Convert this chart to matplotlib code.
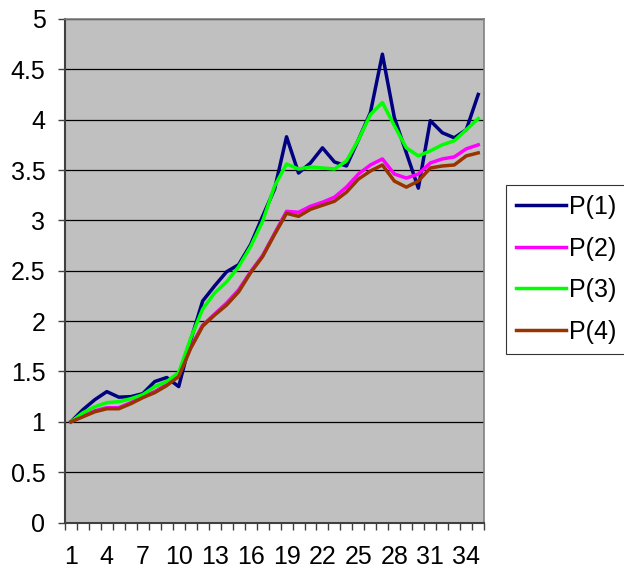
import matplotlib
matplotlib.use('Agg')
import matplotlib.pyplot as plt

plt.rcParams['font.family'] = ['Liberation Sans', 'DejaVu Sans']

x = list(range(1, 36))
p1 = [1.0, 1.12, 1.22, 1.30, 1.245, 1.25, 1.28, 1.40, 1.44, 1.35,
      1.81, 2.20, 2.35, 2.49, 2.56, 2.76, 3.04, 3.31, 3.83, 3.47,
      3.57, 3.72, 3.58, 3.54, 3.80, 4.07, 4.65, 4.02, 3.67, 3.32,
      3.99, 3.87, 3.82, 3.90, 4.25]
p2 = [1.0, 1.06, 1.11, 1.14, 1.14, 1.19, 1.25, 1.30, 1.37, 1.46,
      1.74, 1.96, 2.07, 2.18, 2.31, 2.49, 2.65, 2.87, 3.09, 3.08,
      3.14, 3.18, 3.23, 3.33, 3.46, 3.55, 3.61, 3.46, 3.42, 3.46,
      3.57, 3.61, 3.63, 3.71, 3.75]
p3 = [1.0, 1.09, 1.15, 1.19, 1.20, 1.23, 1.27, 1.35, 1.40, 1.49,
      1.83, 2.12, 2.28, 2.39, 2.54, 2.74, 2.99, 3.34, 3.56, 3.51,
      3.53, 3.52, 3.51, 3.59, 3.80, 4.05, 4.17, 3.94, 3.72, 3.64,
      3.69, 3.75, 3.79, 3.90, 4.01]
p4 = [1.0, 1.05, 1.10, 1.13, 1.13, 1.18, 1.24, 1.29, 1.36, 1.45,
      1.73, 1.95, 2.06, 2.16, 2.29, 2.48, 2.64, 2.86, 3.07, 3.04,
      3.11, 3.15, 3.19, 3.28, 3.41, 3.49, 3.55, 3.39, 3.33, 3.39,
      3.52, 3.54, 3.55, 3.64, 3.67]
labels = ['P(1)', 'P(2)', 'P(3)', 'P(4)']
colors = ['#000080', '#FF00FF', '#00FF00', '#993300']

fig = plt.figure(figsize=(6.24, 5.73), dpi=100)
ax = fig.add_axes([0.104, 0.088, 0.672, 0.879])
ax.set_facecolor('#C0C0C0')

for ys, lab, c in zip([p1, p2, p3, p4], labels, colors):
    ax.plot(x, ys, color=c, lw=2.5, label=lab)

ax.set_xlim(0.5, 35.5)
ax.set_ylim(0, 5)
ax.set_yticks([i * 0.5 for i in range(11)])
ax.set_yticklabels(['0', '0.5', '1', '1.5', '2', '2.5', '3', '3.5', '4', '4.5', '5'])
ax.yaxis.grid(True, color='black', lw=0.9)
ax.set_axisbelow(True)

# category labels every 3rd, tick marks between categories
ax.set_xticks(x[::3])
ax.set_xticklabels([str(v) for v in x[::3]])
ax.set_xticks([v + 0.5 for v in range(0, 36)], minor=True)
ax.tick_params(axis='x', which='major', length=0, pad=16, labelsize=18)
ax.tick_params(axis='x', which='minor', length=5, width=1, color='#404040')
ax.tick_params(axis='y', length=5, width=1, color='#404040', pad=9, labelsize=18)

for s in ['left', 'bottom']:
    ax.spines[s].set_color('#404040')
    ax.spines[s].set_linewidth(1.5)
for s in ['right', 'top']:
    ax.spines[s].set_color('#808080')
    ax.spines[s].set_linewidth(1.2)

leg = fig.legend(loc='upper left', bbox_to_anchor=(0.811, 0.677), fontsize=18,
                 frameon=True, fancybox=False, edgecolor='black', handlelength=2.0,
                 handletextpad=0.12, labelspacing=0.7, borderpad=0.4, borderaxespad=0)
leg.get_frame().set_linewidth(0.8)

fig.savefig('out.png', dpi=100)
